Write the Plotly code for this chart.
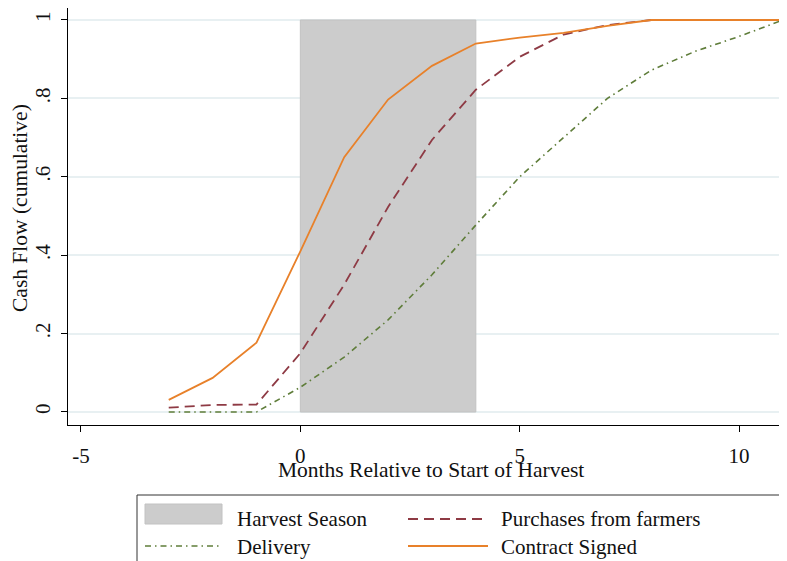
import plotly.graph_objects as go

# ---- data ----
months = [-3, -2, -1, 0, 1, 2, 3, 4, 5, 6, 7, 8, 9, 10, 11]
contract_signed = [0.031, 0.087, 0.177, 0.41, 0.65, 0.797, 0.883, 0.94, 0.955, 0.967, 0.985, 1.0, 1.0, 1.0, 1.0]
purchases = [0.011, 0.018, 0.019, 0.15, 0.325, 0.523, 0.694, 0.822, 0.906, 0.963, 0.987, 1.0, 1.0, 1.0, 1.0]
delivery = [0.0, 0.0, 0.0, 0.063, 0.14, 0.235, 0.35, 0.477, 0.60, 0.70, 0.80, 0.872, 0.92, 0.958, 1.0]
harvest_start, harvest_end = 0, 4
harvest_low, harvest_high = 0, 1
y_ticks = [0, 0.2, 0.4, 0.6, 0.8, 1.0]
y_tick_labels = ["0", ".2", ".4", ".6", ".8", "1"]
x_ticks = [-5, 0, 5, 10]
x_tick_labels = ["-5", "0", "5", "10"]

FONT = "Liberation Serif"
FS = 21
ORANGE = "#e8812a"
MAROON = "#8e3a44"
GREEN = "#5f7d3a"
SHADE = "#cccccc"
SHADE_EDGE = "#c2c2c2"

# page has an 8px body margin: figure is placed at screen (8, 8)
OFF = 8
W, H = 787 - OFF, 561 - OFF
# plot area in screen pixels
L, R, T, B = 68, 786, 8, 425


def px(x):
    return (x - L) / (R - L)


def py(y):
    return (B - y) / (B - T)


fig = go.Figure()
# harvest season band (drawn as a filled trace so it covers the grid)
fig.add_trace(go.Scatter(
    x=[harvest_start, harvest_end, harvest_end, harvest_start, harvest_start],
    y=[harvest_low, harvest_low, harvest_high, harvest_high, harvest_low],
    mode="lines", fill="toself", fillcolor=SHADE,
    line=dict(color=SHADE_EDGE, width=1), name="Harvest Season",
    showlegend=False, hoverinfo="skip"))
fig.add_trace(go.Scatter(x=months, y=delivery, mode="lines",
                         line=dict(color=GREEN, width=1.6, dash="6px,4px,1.5px,4px"),
                         name="Delivery", showlegend=False))
fig.add_trace(go.Scatter(x=months, y=purchases, mode="lines",
                         line=dict(color=MAROON, width=1.8, dash="10px,6px"),
                         name="Purchases from farmers", showlegend=False))
fig.add_trace(go.Scatter(x=months, y=contract_signed, mode="lines",
                         line=dict(color=ORANGE, width=1.8),
                         name="Contract Signed", showlegend=False))

shapes = [
    # legend box
    dict(type="rect", xref="paper", yref="paper", x0=px(137), x1=px(820), y0=py(585), y1=py(495),
         line=dict(color="#333333", width=1), fillcolor="rgba(0,0,0,0)"),
    # legend samples
    dict(type="rect", xref="paper", yref="paper", x0=px(145), x1=px(222), y0=py(524), y1=py(504),
         fillcolor=SHADE, line=dict(color=SHADE_EDGE, width=1)),
    dict(type="line", xref="paper", yref="paper", x0=px(408), x1=px(488), y0=py(519), y1=py(519),
         line=dict(color=MAROON, width=1.8, dash="10px,6px")),
    dict(type="line", xref="paper", yref="paper", x0=px(145), x1=px(222), y0=py(546), y1=py(546),
         line=dict(color=GREEN, width=1.6, dash="6px,4px,1.5px,4px")),
    dict(type="line", xref="paper", yref="paper", x0=px(408), x1=px(488), y0=py(546), y1=py(546),
         line=dict(color=ORANGE, width=1.8)),
]

tfont = dict(family=FONT, size=FS, color="#111111")
tfont_title = dict(family=FONT, size=21.5, color="#111111")
annotations = [
    dict(text="Harvest Season", x=px(235), y=py(519), xref="paper", yref="paper",
         xanchor="left", yanchor="middle", showarrow=False, font=tfont),
    dict(text="Purchases from farmers", x=px(499), y=py(519), xref="paper", yref="paper",
         xanchor="left", yanchor="middle", showarrow=False, font=tfont),
    dict(text="Delivery", x=px(235), y=py(547), xref="paper", yref="paper",
         xanchor="left", yanchor="middle", showarrow=False, font=tfont),
    dict(text="Contract Signed", x=px(499), y=py(547), xref="paper", yref="paper",
         xanchor="left", yanchor="middle", showarrow=False, font=tfont),
    dict(text="Months Relative to Start of Harvest", x=px(431), y=py(470), xref="paper", yref="paper",
         xanchor="center", yanchor="middle", showarrow=False, font=tfont_title),
    dict(text="Cash Flow (cumulative)", x=px(20), y=py(208), xref="paper", yref="paper",
         xanchor="center", yanchor="middle", textangle=-90, showarrow=False, font=tfont_title),
]

fig.update_layout(
    width=W, height=H,
    margin=dict(l=L - OFF, r=W - (R - OFF), t=T - OFF, b=H - (B - OFF), autoexpand=False),
    paper_bgcolor="white", plot_bgcolor="white",
    font=dict(family=FONT, size=FS, color="#111111"),
    shapes=shapes, annotations=annotations, showlegend=False,
)
fig.update_xaxes(range=[-5.296, 11.07], tickvals=x_ticks, ticktext=x_tick_labels,
                 ticks="outside", ticklen=6, tickcolor="black", tickwidth=1,
                 showline=True, linecolor="black", linewidth=1.3,
                 showgrid=False, zeroline=False, ticklabelstandoff=6,
                 tickfont=dict(family=FONT, size=FS))
fig.update_yaxes(range=[-0.0332, 1.0306], tickvals=y_ticks, ticktext=y_tick_labels,
                 ticks="outside", ticklen=6, tickcolor="black", tickwidth=1,
                 showline=True, linecolor="black", linewidth=1.3,
                 showgrid=True, gridcolor="#e8f0f2", gridwidth=1.5, zeroline=False,
                 tickangle=-90, ticklabelstandoff=2,
                 tickfont=dict(family=FONT, size=FS))

fig.write_html("out.html")
